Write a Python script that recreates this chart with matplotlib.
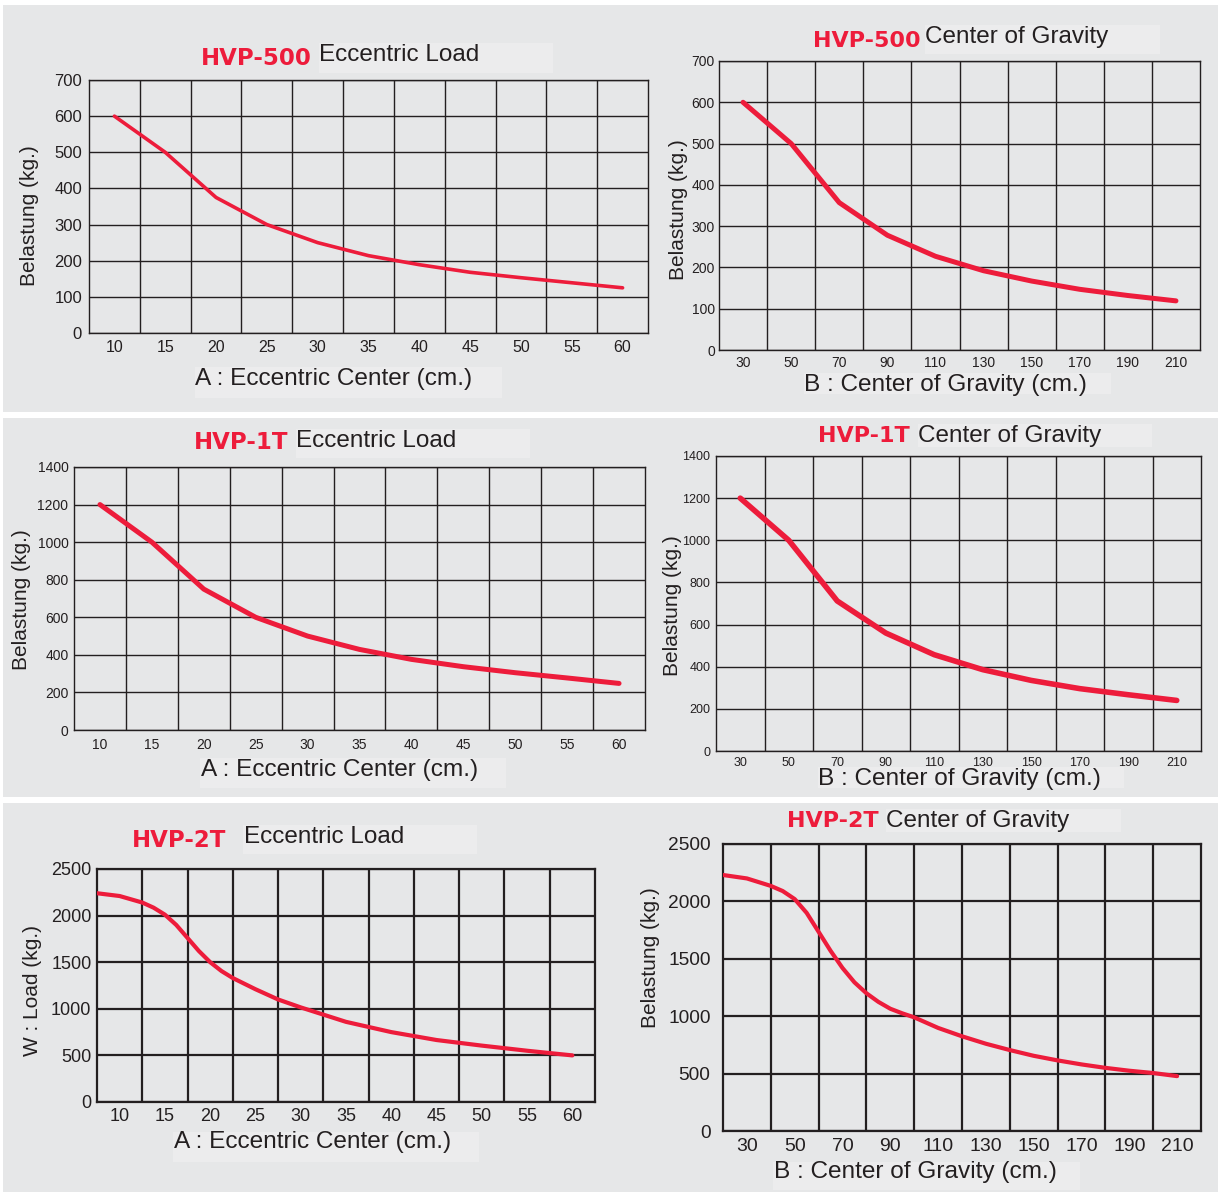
import matplotlib.pyplot as plt
from matplotlib.patches import Rectangle

plt.rcParams['font.family'] = ['Liberation Sans', 'DejaVu Sans']

W, H = 1221, 1192
BG = '#e6e7e8'
BOXBG = '#ececed'
RED = '#ed1c3b'
INK = '#231f20'

# eccentric load charts (A : cm)
ecc_x = [10, 15, 20, 25, 30, 35, 40, 45, 50, 55, 60]
hvp500_ecc = [600, 500, 375, 300, 250, 214, 189, 168, 153, 139, 125]
hvp1t_ecc = [1200, 1000, 750, 600, 500, 429, 376, 337, 305, 277, 248]
hvp2t_ecc_x = [7.5, 10, 12.5, 13.75, 15, 16.25, 17.5, 18.75, 20, 21.25, 22.5, 25, 27.5,
               30, 35, 40, 45, 50, 55, 60]
hvp2t_ecc = [2240, 2210, 2140, 2085, 2010, 1900, 1760, 1620, 1500, 1405, 1330, 1210, 1100,
             1015, 860, 750, 665, 605, 550, 500]

# center of gravity charts (B : cm)
cog_x = [30, 50, 70, 90, 110, 130, 150, 170, 190, 210]
hvp500_cog = [600, 500, 357, 278, 227, 192, 167, 147, 132, 119]
hvp1t_cog = [1200, 1000, 712, 560, 457, 386, 335, 296, 267, 240]
hvp2t_cog_x = [20, 30, 40, 45, 50, 55, 60, 65, 70, 75, 80, 85, 90, 95, 100, 110, 120, 130,
               140, 150, 160, 170, 180, 190, 200, 210]
hvp2t_cog = [2230, 2200, 2135, 2090, 2020, 1900, 1735, 1570, 1420, 1295, 1200, 1125, 1065,
             1025, 990, 898, 825, 760, 705, 655, 615, 580, 550, 525, 505, 478]

y500 = [0, 100, 200, 300, 400, 500, 600, 700]
y1t = [0, 200, 400, 600, 800, 1000, 1200, 1400]
y2t = [0, 500, 1000, 1500, 2000, 2500]


def pxRect(fig, left, top, right, bottom, color, z):
    fig.add_artist(Rectangle((left / W, 1 - bottom / H), (right - left) / W, (bottom - top) / H,
                             transform=fig.transFigure, color=color, lw=0, zorder=z))


def pxText(fig, x, y, s, **kw):
    fig.text(x / W, 1 - y / H, s, **kw)


def handleChart(fig, box, x, y, ticks, xlim, step, yticks, lw, glw, tfs, xpad, ypad):
    left, top, right, bottom = box
    ax = fig.add_axes([left / W, 1 - bottom / H, (right - left) / W, (bottom - top) / H])
    ax.set_facecolor('none')
    ax.plot(x, y, color=RED, lw=lw, solid_capstyle='round', solid_joinstyle='round', zorder=3)
    ax.set_xlim(xlim)
    ax.set_ylim(yticks[0], yticks[-1])
    ax.set_xticks(ticks)
    bounds = []
    b = xlim[0] + step
    while b < xlim[1] - step / 2:
        bounds.append(b)
        b += step
    ax.set_xticks(bounds, minor=True)
    ax.set_yticks(yticks)
    ax.grid(True, which='minor', axis='x', color=INK, lw=glw)
    ax.grid(True, which='major', axis='y', color=INK, lw=glw)
    ax.grid(False, which='major', axis='x')
    ax.tick_params(which='both', length=0, colors=INK)
    ax.tick_params(axis='x', labelsize=tfs[0], pad=xpad)
    ax.tick_params(axis='y', labelsize=tfs[1], pad=ypad)
    for s in ax.spines.values():
        s.set_color(INK)
        s.set_linewidth(glw)
    return ax


def header(fig, model, name, redpos, namepos, box, fs):
    pxRect(fig, *box, BOXBG, -0.5)
    pxText(fig, redpos[0], redpos[1], model, color=RED, fontsize=fs, fontweight='bold',
           family='DejaVu Sans', va='baseline', ha='left')
    pxText(fig, namepos[0], namepos[1], name, color=INK, fontsize=17.5, va='baseline', ha='left')


def footer(fig, label, pos, box):
    pxRect(fig, *box, BOXBG, -0.5)
    pxText(fig, pos[0], pos[1], label, color=INK, fontsize=17.6, va='baseline', ha='left')


def sideLabel(fig, label, pos):
    pxText(fig, pos[0], pos[1], label, color=INK, fontsize=15, rotation=90, ha='center', va='center')


fig = plt.figure(figsize=(W / 100, H / 100), dpi=100)
fig.patch.set_facecolor('white')
pxRect(fig, 3, 5, 1218, 412, BG, -1)
pxRect(fig, 3, 418, 1218, 797, BG, -1)
pxRect(fig, 3, 803, 1218, 1192, BG, -1)

ecc_lbl = 'A : Eccentric Center (cm.)'
cog_lbl = 'B : Center of Gravity (cm.)'

# HVP-500
handleChart(fig, (89, 80, 648, 333), ecc_x, hvp500_ecc, ecc_x, (7.5, 62.5), 5, y500,
            2.6, 1.0, (11.5, 12), 5, 5)
header(fig, 'HVP-500', 'Eccentric Load', (201, 65), (319, 61), (319, 43, 553, 73), 16.5)
footer(fig, ecc_lbl, (195, 385), (195, 367, 502, 398))
sideLabel(fig, 'Belastung (kg.)', (30, 216))

handleChart(fig, (719, 61, 1200, 350), cog_x, hvp500_cog, cog_x, (20, 220), 20, y500,
            3.6, 1.0, (10, 10), 4, 3)
header(fig, 'HVP-500', 'Center of Gravity', (813, 47), (925, 43), (925, 25, 1160, 54), 16)
footer(fig, cog_lbl, (804, 391), (804, 373, 1111, 394))
sideLabel(fig, 'Belastung (kg.)', (678, 210))

# HVP-1T
handleChart(fig, (74, 467, 645, 730), ecc_x, hvp1t_ecc, ecc_x, (7.5, 62.5), 5, y1t,
            3.6, 1.0, (10, 10), 6, 4)
header(fig, 'HVP-1T', 'Eccentric Load', (194, 449), (296, 447), (296, 429, 530, 458), 16.5)
footer(fig, ecc_lbl, (201, 776), (200, 758, 506, 788))
sideLabel(fig, 'Belastung (kg.)', (22, 600))

handleChart(fig, (716, 456, 1201, 751), cog_x, hvp1t_cog, cog_x, (20, 220), 20, y1t,
            4.0, 1.0, (9, 9), 4, 4)
header(fig, 'HVP-1T', 'Center of Gravity', (818, 442), (918, 442), (918, 424, 1152, 447), 16)
footer(fig, cog_lbl, (818, 785), (818, 767, 1124, 788))
sideLabel(fig, 'Belastung (kg.)', (672, 606))

# HVP-2T
handleChart(fig, (97, 869, 595, 1102), hvp2t_ecc_x, hvp2t_ecc, ecc_x, (7.5, 62.5), 5, y2t,
            3.0, 1.6, (13, 13), 4, 4)
header(fig, 'HVP-2T', 'Eccentric Load', (132, 847), (244, 843), (243, 825, 477, 854), 16.5)
footer(fig, ecc_lbl, (174, 1148), (173, 1132, 479, 1162))
sideLabel(fig, 'W : Load (kg.)', (33, 990))

handleChart(fig, (723, 844, 1201, 1131), hvp2t_cog_x, hvp2t_cog, cog_x, (20, 220), 20, y2t,
            3.0, 1.6, (14, 13.8), 5, 9)
header(fig, 'HVP-2T', 'Center of Gravity', (787, 827), (886, 827), (886, 809, 1121, 832), 16)
footer(fig, cog_lbl, (774, 1178), (773, 1162, 1080, 1190))
sideLabel(fig, 'Belastung (kg.)', (650, 958))

fig.savefig('out.png', dpi=100, facecolor=fig.get_facecolor())
